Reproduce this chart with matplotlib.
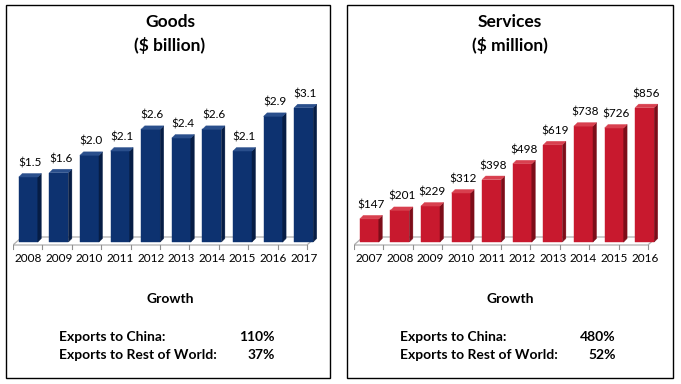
import numpy as np
import matplotlib
matplotlib.use("Agg")
import matplotlib.pyplot as plt
from matplotlib.patches import Polygon, Rectangle
from matplotlib.lines import Line2D

# ---------------- data ----------------
goods_years = ['2008', '2009', '2010', '2011', '2012', '2013', '2014', '2015', '2016', '2017']
goods_values = [1.5, 1.6, 2.0, 2.1, 2.6, 2.4, 2.6, 2.1, 2.9, 3.1]
goods_labels = ['$1.5', '$1.6', '$2.0', '$2.1', '$2.6', '$2.4', '$2.6', '$2.1', '$2.9', '$3.1']

services_years = ['2007', '2008', '2009', '2010', '2011', '2012', '2013', '2014', '2015', '2016']
services_values = [147, 201, 229, 312, 398, 498, 619, 738, 726, 856]
services_labels = ['$147', '$201', '$229', '$312', '$398', '$498', '$619', '$738', '$726', '$856']

growth_rows = ['Exports to China:', 'Exports to Rest of World:']
goods_growth = ['110%', '37%']
services_growth = ['480%', '52%']

FONT = ['Lato', 'DejaVu Sans']
plt.rcParams['font.family'] = FONT

W, H = 681, 384
fig = plt.figure(figsize=(W / 100, H / 100), dpi=100)
fig.patch.set_facecolor('white')


def fx(px):
    return px / W


def fy(py):
    return 1 - py / H


# panel borders
for (x0, x1) in [(6, 330), (347, 673)]:
    fig.patches.append(Rectangle((fx(x0), fy(378)), fx(x1 - x0), (378 - 5) / H,
                                 transform=fig.transFigure, fill=False,
                                 edgecolor='black', linewidth=1.0))

AX_TOP, BASE, AX_BOT = 80, 242, 270  # pixel rows


def panel(left_px, cats, vals, labels, ytop, front, side, topc,
          title1, title2, growth, center_px):
    n = len(vals)
    spacing = 30.6
    width_px = spacing * n
    # scale: pixels per unit
    k = (BASE - AX_TOP) / ytop
    ybot = -(AX_BOT - BASE) / k
    ax = fig.add_axes([fx(left_px), fy(AX_BOT), fx(width_px), (AX_BOT - AX_TOP) / H])
    ax.set_xlim(-0.5, n - 0.5)
    ax.set_ylim(ybot, ytop)
    ax.axis('off')
    ux = 1 / spacing  # data units per pixel in x
    uy = 1 / k        # data units per pixel in y
    dx, dy = 3.5 * ux, 3.5 * uy
    w = 0.62
    x = np.arange(n)

    # floor
    fdx, fdy = 9 * ux, 8 * uy
    fl = -0.5
    fr = n - 0.5 - fdx - 0.1
    y_front = -3 * uy
    floor = Polygon([(fl, y_front), (fr, y_front), (fr + fdx, y_front + fdy),
                     (fl + fdx, y_front + fdy)], closed=True, facecolor='white',
                    edgecolor='#b0b0b0', linewidth=0.9, zorder=1)
    ax.add_patch(floor)
    for i in range(n + 1):
        tx = fl + i * (fr - fl) / n
        ax.add_line(Line2D([tx, tx], [y_front, y_front - 4 * uy], color='#909090',
                           linewidth=0.8, zorder=1))

    # bars (front face)
    ax.bar(x, vals, w, color=front, edgecolor=front, linewidth=0.3, zorder=3)
    for xi, v, lab, c in zip(x, vals, labels, cats):
        xr = xi + w / 2
        xl = xi - w / 2
        ax.add_patch(Polygon([(xr, 0), (xr + dx, dy), (xr + dx, v + dy), (xr, v)],
                             closed=True, facecolor=side, edgecolor=side,
                             linewidth=0.3, zorder=3))
        ax.add_patch(Polygon([(xl, v), (xr, v), (xr + dx, v + dy), (xl + dx, v + dy)],
                             closed=True, facecolor=topc, edgecolor=topc,
                             linewidth=0.3, zorder=3))
        ax.text(xi + dx / 2, v + dy + 5 * uy, lab, ha='center', va='bottom',
                fontsize=8.5, color='black', zorder=4)
        ax.text(xi, -17 * uy, c, ha='center', va='center', fontsize=8.5,
                color='black')

    # titles
    fig.text(fx(center_px), fy(22), title1, ha='center', va='center',
             fontsize=12.5, fontweight='bold')
    fig.text(fx(center_px), fy(45), title2, ha='center', va='center',
             fontsize=12.5, fontweight='bold')
    fig.text(fx(center_px + 0), fy(299), 'Growth', ha='center', va='center',
             fontsize=10, fontweight='bold')
    for j, (row, g) in enumerate(zip(growth_rows, growth)):
        yy = 337 + j * 18
        fig.text(fx(left_px + 46), fy(yy), row, ha='left', va='center',
                 fontsize=10, fontweight='bold')
        fig.text(fx(left_px + 262), fy(yy), g, ha='right', va='center',
                 fontsize=10, fontweight='bold')


panel(13, goods_years, goods_values, goods_labels, 3.74,
      '#0d3270', '#061d45', '#2a4f8c', 'Goods', '($ billion)', goods_growth, 170)
panel(354, services_years, services_values, services_labels, 1032,
      '#c8192e', '#7d0d19', '#d8404f', 'Services', '($ million)', services_growth, 510)

fig.savefig('out.png', dpi=100)
